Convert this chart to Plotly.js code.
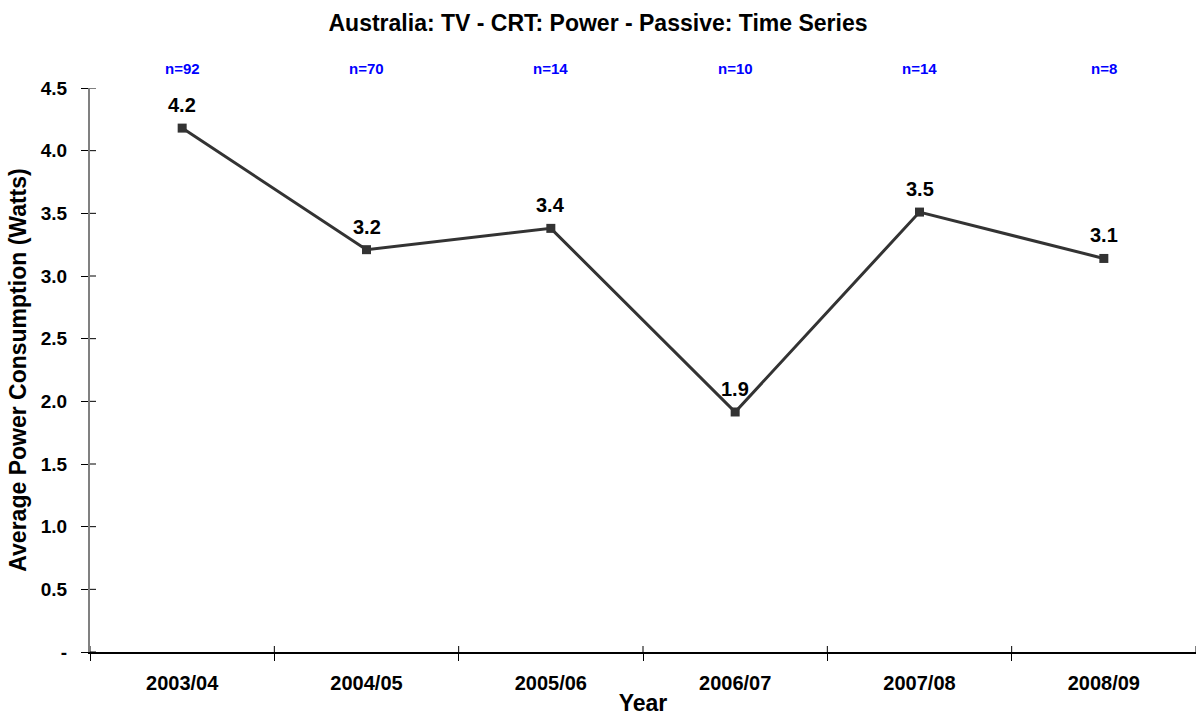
<!DOCTYPE html>
<html>
<head>
<meta charset="utf-8">
<script src="https://cdn.plot.ly/plotly-3.0.1.min.js"></script>
<style>html,body{margin:0;padding:0;background:#fff;}#chart{width:1196px;height:716px;}</style>
</head>
<body>
<div id="chart"></div>
<script>
const years = ["2003/04", "2004/05", "2005/06", "2006/07", "2007/08", "2008/09"];
const power = [4.18, 3.21, 3.38, 1.915, 3.51, 3.14];
const counts = [92, 70, 14, 10, 14, 8];
const yTickVals = [0, 0.5, 1.0, 1.5, 2.0, 2.5, 3.0, 3.5, 4.0, 4.5];
const yTickText = ["-", "0.5", "1.0", "1.5", "2.0", "2.5", "3.0", "3.5", "4.0", "4.5"];

const FONT = "Liberation Sans, Arial, sans-serif";

const trace = {
  x: years,
  y: power,
  type: "scatter",
  mode: "lines+markers",
  line: {color: "#333333", width: 3},
  marker: {symbol: "square", size: 9, color: "#333333"},
  cliponaxis: false,
  hoverinfo: "skip",
  showlegend: false
};

const valueLabels = years.map((yr, i) => ({
  x: yr, xref: "x", y: power[i], yref: "y", yanchor: "bottom", yshift: 10,
  text: "<b>" + power[i].toFixed(1) + "</b>", showarrow: false,
  font: {family: FONT, size: 20, color: "#000000"}
}));

const countLabels = years.map((yr, i) => ({
  x: yr, xref: "x", y: 1.0, yref: "paper", yanchor: "bottom", yshift: 9,
  text: "<b>n=" + counts[i] + "</b>", showarrow: false,
  font: {family: FONT, size: 15, color: "#0000ff"}
}));

// inner halves of the crossing tick marks (outer halves are the axis ticks)
const xBoundaries = years.map((_, i) => i - 0.5).concat([years.length - 0.5]);
const xInnerTicks = xBoundaries.map(b => ({
  type: "line", xref: "x", yref: "y", ysizemode: "pixel", yanchor: 0,
  x0: b, x1: b, y0: 0, y1: 6, line: {color: "#000000", width: 1}
}));
const yInnerTicks = yTickVals.map(v => ({
  type: "line", xref: "paper", yref: "y", xsizemode: "pixel", xanchor: 0,
  x0: 0, x1: 6, y0: v, y1: v, line: {color: "#000000", width: 1}
}));

const layout = {
  width: 1196, height: 716,
  paper_bgcolor: "#ffffff", plot_bgcolor: "#ffffff",
  margin: {l: 90, r: 0, t: 88, b: 64},
  font: {family: FONT, color: "#000000"},
  title: {text: "<b>Australia: TV - CRT: Power - Passive: Time Series</b>", x: 0.5, xanchor: "center", y: 0.968, yanchor: "middle", font: {family: FONT, size: 23, color: "#000"}},
  xaxis: {
    type: "category", range: [-0.5, 5.5],
    showline: true, linecolor: "#000000", linewidth: 1.5,
    ticks: "outside", ticklen: 7, tickcolor: "#000000", tickwidth: 1, tickson: "boundaries",
    ticklabelstandoff: 12,
    showgrid: false, zeroline: false,
    tickfont: {family: FONT, size: 20, color: "#000", weight: "bold"},
    title: {text: "<b>Year</b>", font: {family: FONT, size: 23, color: "#000"}, standoff: 3}
  },
  yaxis: {
    range: [0, 4.5], tickvals: yTickVals, ticktext: yTickText,
    showline: true, linecolor: "#808080", linewidth: 2,
    ticks: "outside", ticklen: 7, tickcolor: "#000000", tickwidth: 1,
    ticklabelstandoff: 10,
    showgrid: false, zeroline: false,
    tickfont: {family: FONT, size: 19, color: "#000", weight: "bold"},
    title: {text: "<b>Average Power Consumption (Watts)</b>", font: {family: FONT, size: 23, color: "#000"}, standoff: 8}
  },
  shapes: xInnerTicks.concat(yInnerTicks),
  annotations: valueLabels.concat(countLabels)
};

Plotly.newPlot("chart", [trace], layout, {displayModeBar: false, staticPlot: true});
</script>
</body>
</html>
